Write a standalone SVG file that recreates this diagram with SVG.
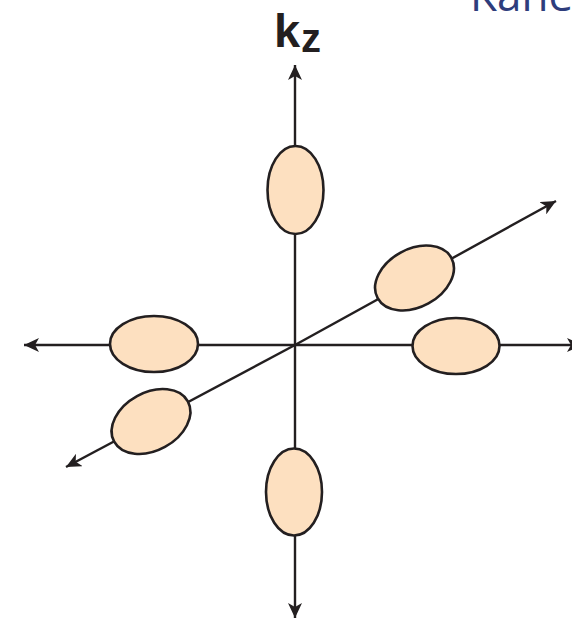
<svg xmlns="http://www.w3.org/2000/svg" width="572" height="621" viewBox="0 0 572 621">
  <style>
    .axis { stroke: #231f20; stroke-width: 2.4; fill: none; }
    .lobe { fill: #fde0c0; stroke: #231f20; stroke-width: 2.6; }
    .lbl { font-family: "Liberation Sans", Arial, sans-serif; font-weight: bold; fill: #231f20; }
    .title { font-family: "Open Sans", "Liberation Sans", sans-serif; fill: #2e3d7c; }
  </style>
  <defs>
    <marker id="arr" markerUnits="userSpaceOnUse" markerWidth="16" markerHeight="14" refX="15" refY="7" orient="auto">
      <path d="M0,0 L15,7 L0,14 L4,7 Z" fill="#231f20"/>
    </marker>
  </defs>
  <rect width="572" height="621" fill="#ffffff"/>
  <text class="title" x="470" y="11" font-size="44">Kane</text>
  <g id="connectors">
    <line class="axis" x1="295" y1="345" x2="295" y2="65" marker-end="url(#arr)"/>
    <line class="axis" x1="295" y1="345" x2="295" y2="618" marker-end="url(#arr)"/>
    <line class="axis" x1="295" y1="345" x2="24" y2="345" marker-end="url(#arr)"/>
    <line class="axis" x1="295" y1="345" x2="582" y2="345" marker-end="url(#arr)"/>
    <line class="axis" x1="295" y1="345" x2="556" y2="201" marker-end="url(#arr)"/>
    <line class="axis" x1="295" y1="345" x2="66" y2="467" marker-end="url(#arr)"/>
  </g>
  <g id="label-kz">
    <text class="lbl" x="274" y="47" font-size="47">k</text>
    <text class="lbl" x="301" y="52" font-size="40">z</text>
  </g>
  <g id="lobe-top"><ellipse class="lobe" cx="295.5" cy="190" rx="28" ry="44"/></g>
  <g id="lobe-bottom"><ellipse class="lobe" cx="294" cy="492" rx="28" ry="43.5"/></g>
  <g id="lobe-left"><ellipse class="lobe" cx="154" cy="344" rx="44" ry="28"/></g>
  <g id="lobe-right"><ellipse class="lobe" cx="456" cy="346" rx="43.5" ry="28"/></g>
  <g id="lobe-diag-upper"><ellipse class="lobe" cx="0" cy="0" rx="42" ry="29" transform="translate(414.5,278) rotate(-28.7)"/></g>
  <g id="lobe-diag-lower"><ellipse class="lobe" cx="0" cy="0" rx="42" ry="29" transform="translate(151,421.5) rotate(-28.7)"/></g>
</svg>
